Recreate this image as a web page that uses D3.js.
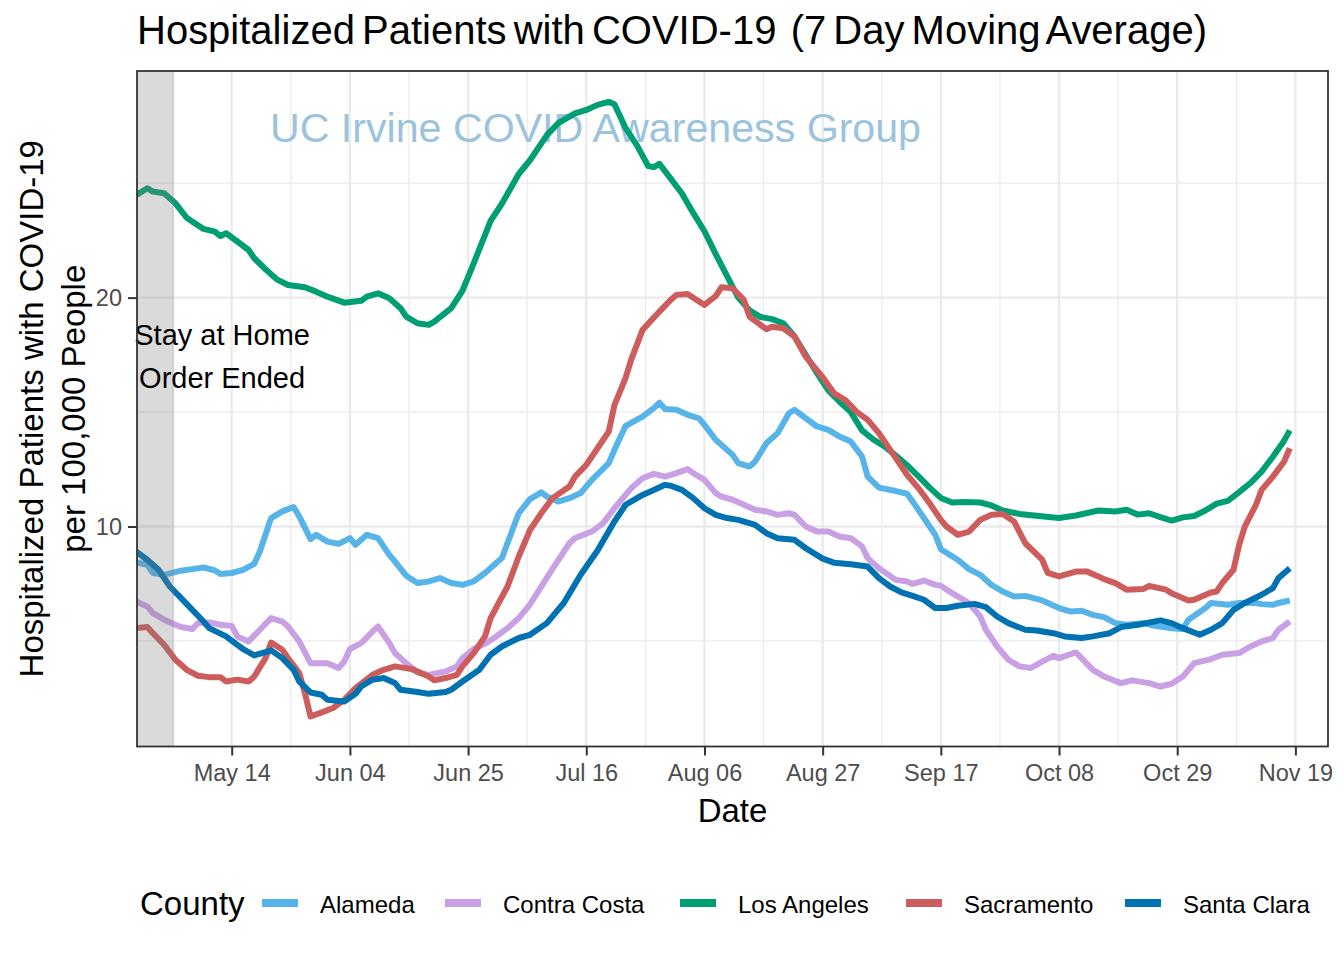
<!DOCTYPE html>
<html><head><meta charset="utf-8">
<script src="https://cdn.jsdelivr.net/npm/d3@7"></script>
<style>
body{margin:0;background:#fff;}
text{font-family:"Liberation Sans",Arial,Helvetica,sans-serif;}
</style></head><body>
<svg id="chart" width="1344" height="960"></svg>
<script>
// ---------------- DATA ----------------
const counties = ["Alameda","Contra Costa","Los Angeles","Sacramento","Santa Clara"];
const countyColors = ["#56B4E9","#C9A0E3","#009E73","#CD5C5C","#0072B2"];

const alameda = [["2020-04-27",8.43],["2020-04-29",8.33],["2020-04-30",7.97],["2020-05-02",7.89],["2020-05-05",8.07],["2020-05-07",8.14],["2020-05-09",8.21],["2020-05-11",8.08],["2020-05-12",7.93],["2020-05-14",7.97],["2020-05-16",8.11],["2020-05-18",8.37],["2020-05-19",8.91],["2020-05-21",10.37],["2020-05-23",10.66],["2020-05-25",10.85],["2020-05-26",10.44],["2020-05-28",9.45],["2020-05-29",9.64],["2020-05-31",9.34],["2020-06-02",9.24],["2020-06-04",9.49],["2020-06-05",9.2],["2020-06-07",9.64],["2020-06-09",9.49],["2020-06-11",8.76],["2020-06-12",8.47],["2020-06-14",7.85],["2020-06-16",7.53],["2020-06-18",7.6],["2020-06-20",7.75],["2020-06-22",7.53],["2020-06-24",7.45],["2020-06-26",7.6],["2020-06-28",7.97],["2020-07-01",8.62],["2020-07-03",9.93],["2020-07-04",10.58],["2020-07-06",11.2],["2020-07-08",11.49],["2020-07-09",11.31],["2020-07-11",11.09],["2020-07-13",11.24],["2020-07-15",11.46],["2020-07-17",12.04],["2020-07-20",12.77],["2020-07-21",13.35],["2020-07-23",14.4],["2020-07-26",14.8],["2020-07-28",15.17],["2020-07-29",15.41],["2020-07-30",15.13],["2020-08-01",15.1],["2020-08-03",14.88],["2020-08-05",14.73],["2020-08-06",14.44],["2020-08-08",13.79],["2020-08-11",13.13],["2020-08-12",12.77],["2020-08-14",12.62],["2020-08-15",12.84],["2020-08-17",13.64],["2020-08-19",14.08],["2020-08-21",14.95],["2020-08-22",15.1],["2020-08-24",14.73],["2020-08-26",14.37],["2020-08-28",14.22],["2020-08-30",13.93],["2020-09-01",13.71],["2020-09-03",13.06],["2020-09-04",12.18],["2020-09-06",11.7],["2020-09-09",11.55],["2020-09-11",11.43],["2020-09-12",11.09],["2020-09-14",10.37],["2020-09-16",9.64],["2020-09-17",9.01],["2020-09-20",8.55],["2020-09-22",8.14],["2020-09-24",7.89],["2020-09-26",7.45],["2020-09-28",7.16],["2020-09-30",6.94],["2020-10-02",6.97],["2020-10-05",6.77],["2020-10-08",6.44],["2020-10-10",6.29],["2020-10-12",6.32],["2020-10-14",6.14],["2020-10-16",6.04],["2020-10-18",5.78],["2020-10-20",5.71],["2020-10-23",5.78],["2020-10-25",5.66],["2020-10-28",5.56],["2020-10-30",5.52],["2020-10-31",5.93],["2020-11-03",6.44],["2020-11-04",6.66],["2020-11-07",6.58],["2020-11-09",6.66],["2020-11-12",6.66],["2020-11-13",6.61],["2020-11-15",6.58],["2020-11-16",6.66],["2020-11-18",6.77]];

const contraCosta = [["2020-04-27",6.72],["2020-04-29",6.51],["2020-04-30",6.22],["2020-05-02",5.93],["2020-05-04",5.71],["2020-05-05",5.61],["2020-05-07",5.52],["2020-05-08",5.78],["2020-05-10",5.81],["2020-05-12",5.71],["2020-05-14",5.66],["2020-05-15",5.2],["2020-05-17",4.98],["2020-05-19",5.49],["2020-05-21",6.0],["2020-05-23",5.85],["2020-05-24",5.63],["2020-05-26",4.98],["2020-05-28",4.03],["2020-05-30",4.03],["2020-05-31",4.03],["2020-06-02",3.82],["2020-06-03",4.1],["2020-06-04",4.65],["2020-06-06",4.91],["2020-06-08",5.41],["2020-06-09",5.63],["2020-06-11",4.91],["2020-06-12",4.47],["2020-06-14",4.03],["2020-06-16",3.62],["2020-06-18",3.52],["2020-06-21",3.67],["2020-06-23",3.89],["2020-06-24",4.25],["2020-06-26",4.65],["2020-06-28",4.88],["2020-06-30",5.2],["2020-07-02",5.56],["2020-07-04",6.0],["2020-07-06",6.6],["2020-07-10",8.15],["2020-07-13",9.27],["2020-07-14",9.5],["2020-07-17",9.78],["2020-07-19",10.15],["2020-07-21",10.8],["2020-07-24",11.68],["2020-07-26",12.11],["2020-07-28",12.3],["2020-07-30",12.18],["2020-08-01",12.33],["2020-08-03",12.51],["2020-08-04",12.33],["2020-08-06",12.04],["2020-08-08",11.46],["2020-08-09",11.31],["2020-08-11",11.17],["2020-08-13",10.95],["2020-08-15",10.73],["2020-08-17",10.66],["2020-08-19",10.51],["2020-08-21",10.58],["2020-08-22",10.51],["2020-08-24",10.0],["2020-08-26",9.78],["2020-08-28",9.78],["2020-08-30",9.56],["2020-09-01",9.49],["2020-09-03",9.13],["2020-09-04",8.62],["2020-09-06",8.18],["2020-09-09",7.67],["2020-09-11",7.6],["2020-09-12",7.49],["2020-09-14",7.64],["2020-09-16",7.45],["2020-09-17",7.41],["2020-09-19",7.09],["2020-09-22",6.66],["2020-09-24",6.07],["2020-09-25",5.49],["2020-09-27",4.76],["2020-09-29",4.18],["2020-10-01",3.89],["2020-10-03",3.82],["2020-10-05",4.1],["2020-10-07",4.35],["2020-10-08",4.25],["2020-10-11",4.5],["2020-10-12",4.25],["2020-10-14",3.74],["2020-10-16",3.45],["2020-10-19",3.16],["2020-10-21",3.28],["2020-10-24",3.16],["2020-10-26",3.01],["2020-10-28",3.13],["2020-10-30",3.45],["2020-11-01",4.03],["2020-11-04",4.21],["2020-11-06",4.4],["2020-11-09",4.47],["2020-11-11",4.76],["2020-11-13",4.98],["2020-11-15",5.13],["2020-11-16",5.49],["2020-11-18",5.85]];

const losAngeles = [["2020-04-27",24.48],["2020-04-29",24.78],["2020-04-30",24.63],["2020-05-02",24.56],["2020-05-04",24.12],["2020-05-06",23.49],["2020-05-07",23.32],["2020-05-09",23.0],["2020-05-11",22.88],["2020-05-12",22.69],["2020-05-13",22.81],["2020-05-15",22.45],["2020-05-17",22.08],["2020-05-18",21.72],["2020-05-20",21.24],["2020-05-22",20.8],["2020-05-24",20.55],["2020-05-27",20.45],["2020-05-29",20.26],["2020-05-31",20.04],["2020-06-03",19.78],["2020-06-06",19.86],["2020-06-07",20.04],["2020-06-09",20.19],["2020-06-11",19.97],["2020-06-13",19.54],["2020-06-14",19.17],["2020-06-16",18.88],["2020-06-18",18.81],["2020-06-19",18.95],["2020-06-22",19.54],["2020-06-24",20.3],["2020-06-26",21.5],["2020-06-29",23.35],["2020-07-01",24.1],["2020-07-04",25.4],["2020-07-06",26.0],["2020-07-09",27.1],["2020-07-11",27.62],["2020-07-14",28.05],["2020-07-16",28.2],["2020-07-18",28.42],["2020-07-20",28.55],["2020-07-21",28.45],["2020-07-23",27.4],["2020-07-25",26.65],["2020-07-27",25.75],["2020-07-28",25.7],["2020-07-29",25.84],["2020-07-31",25.2],["2020-08-02",24.55],["2020-08-04",23.7],["2020-08-06",22.9],["2020-08-08",21.9],["2020-08-10",20.95],["2020-08-12",20.0],["2020-08-14",19.45],["2020-08-16",19.15],["2020-08-18",19.06],["2020-08-20",18.88],["2020-08-22",18.3],["2020-08-24",17.5],["2020-08-26",16.7],["2020-08-28",15.95],["2020-08-30",15.45],["2020-09-01",15.0],["2020-09-03",14.2],["2020-09-05",13.8],["2020-09-07",13.5],["2020-09-09",13.1],["2020-09-11",12.68],["2020-09-13",12.2],["2020-09-15",11.7],["2020-09-17",11.25],["2020-09-19",11.05],["2020-09-21",11.07],["2020-09-24",11.05],["2020-09-26",10.92],["2020-09-28",10.7],["2020-10-01",10.55],["2020-10-04",10.47],["2020-10-08",10.37],["2020-10-11",10.48],["2020-10-15",10.7],["2020-10-18",10.66],["2020-10-20",10.73],["2020-10-22",10.52],["2020-10-24",10.58],["2020-10-26",10.41],["2020-10-28",10.26],["2020-10-30",10.4],["2020-11-01",10.46],["2020-11-03",10.7],["2020-11-05",11.0],["2020-11-07",11.12],["2020-11-09",11.5],["2020-11-11",11.9],["2020-11-13",12.4],["2020-11-15",13.05],["2020-11-17",13.75],["2020-11-18",14.2]];

const sacramento = [["2020-04-27",5.56],["2020-04-29",5.61],["2020-04-30",5.34],["2020-05-02",4.83],["2020-05-04",4.18],["2020-05-06",3.74],["2020-05-08",3.48],["2020-05-10",3.42],["2020-05-12",3.42],["2020-05-13",3.23],["2020-05-15",3.31],["2020-05-17",3.23],["2020-05-18",3.45],["2020-05-20",4.25],["2020-05-21",4.93],["2020-05-23",4.62],["2020-05-24",4.25],["2020-05-26",3.6],["2020-05-27",2.72],["2020-05-28",1.7],["2020-05-30",1.88],["2020-06-01",2.07],["2020-06-03",2.43],["2020-06-05",2.94],["2020-06-08",3.52],["2020-06-10",3.74],["2020-06-12",3.89],["2020-06-15",3.77],["2020-06-16",3.67],["2020-06-18",3.45],["2020-06-19",3.28],["2020-06-21",3.38],["2020-06-23",3.52],["2020-06-24",3.89],["2020-06-26",4.47],["2020-06-28",5.2],["2020-06-29",6.0],["2020-07-02",7.38],["2020-07-04",8.69],["2020-07-06",9.85],["2020-07-08",10.58],["2020-07-10",11.24],["2020-07-13",11.75],["2020-07-14",12.18],["2020-07-16",12.69],["2020-07-18",13.42],["2020-07-20",14.15],["2020-07-21",15.3],["2020-07-23",16.5],["2020-07-24",17.3],["2020-07-26",18.59],["2020-07-29",19.39],["2020-07-31",19.9],["2020-08-01",20.12],["2020-08-03",20.16],["2020-08-06",19.68],["2020-08-08",20.07],["2020-08-09",20.45],["2020-08-11",20.41],["2020-08-13",19.9],["2020-08-14",19.17],["2020-08-17",18.62],["2020-08-18",18.73],["2020-08-20",18.66],["2020-08-22",18.3],["2020-08-24",17.42],["2020-08-27",16.52],["2020-08-29",15.83],["2020-08-31",15.53],["2020-09-02",15.02],["2020-09-04",14.66],["2020-09-06",14.08],["2020-09-08",13.35],["2020-09-09",12.99],["2020-09-11",12.26],["2020-09-13",11.68],["2020-09-15",11.02],["2020-09-17",10.29],["2020-09-18",10.0],["2020-09-20",9.64],["2020-09-22",9.78],["2020-09-24",10.29],["2020-09-26",10.51],["2020-09-28",10.55],["2020-09-30",10.22],["2020-10-02",9.27],["2020-10-05",8.55],["2020-10-06",7.97],["2020-10-08",7.82],["2020-10-11",8.03],["2020-10-13",8.03],["2020-10-15",7.82],["2020-10-16",7.7],["2020-10-18",7.53],["2020-10-20",7.24],["2020-10-23",7.27],["2020-10-24",7.41],["2020-10-27",7.24],["2020-10-28",7.09],["2020-10-31",6.77],["2020-11-01",6.8],["2020-11-04",7.12],["2020-11-05",7.16],["2020-11-06",7.53],["2020-11-08",8.11],["2020-11-09",9.2],["2020-11-10",10.0],["2020-11-12",10.95],["2020-11-13",11.6],["2020-11-15",12.18],["2020-11-17",12.84],["2020-11-18",13.42]];

const santaClara = [["2020-04-27",8.91],["2020-04-29",8.55],["2020-05-01",8.11],["2020-05-03",7.38],["2020-05-05",6.87],["2020-05-07",6.36],["2020-05-09",5.85],["2020-05-10",5.56],["2020-05-13",5.2],["2020-05-15",4.83],["2020-05-16",4.65],["2020-05-18",4.37],["2020-05-20",4.51],["2020-05-21",4.59],["2020-05-23",4.25],["2020-05-25",3.74],["2020-05-26",3.23],["2020-05-28",2.75],["2020-05-30",2.65],["2020-05-31",2.43],["2020-06-03",2.36],["2020-06-05",2.69],["2020-06-06",3.01],["2020-06-08",3.31],["2020-06-10",3.38],["2020-06-12",3.16],["2020-06-13",2.87],["2020-06-16",2.77],["2020-06-18",2.69],["2020-06-21",2.77],["2020-06-22",2.87],["2020-06-24",3.23],["2020-06-27",3.74],["2020-06-29",4.4],["2020-07-01",4.76],["2020-07-04",5.13],["2020-07-06",5.27],["2020-07-09",5.78],["2020-07-12",6.66],["2020-07-15",7.89],["2020-07-18",8.95],["2020-07-21",10.22],["2020-07-23",10.95],["2020-07-26",11.38],["2020-07-28",11.6],["2020-07-30",11.82],["2020-07-31",11.78],["2020-08-02",11.6],["2020-08-04",11.24],["2020-08-06",10.8],["2020-08-08",10.51],["2020-08-10",10.37],["2020-08-12",10.29],["2020-08-15",10.07],["2020-08-17",9.71],["2020-08-19",9.49],["2020-08-22",9.42],["2020-08-24",9.05],["2020-08-27",8.6],["2020-08-29",8.42],["2020-09-01",8.35],["2020-09-04",8.25],["2020-09-06",7.75],["2020-09-08",7.38],["2020-09-10",7.12],["2020-09-12",6.97],["2020-09-14",6.8],["2020-09-16",6.44],["2020-09-18",6.44],["2020-09-20",6.54],["2020-09-23",6.62],["2020-09-25",6.48],["2020-09-27",6.07],["2020-09-29",5.78],["2020-10-02",5.49],["2020-10-04",5.46],["2020-10-07",5.34],["2020-10-09",5.2],["2020-10-12",5.13],["2020-10-14",5.2],["2020-10-17",5.34],["2020-10-19",5.61],["2020-10-22",5.71],["2020-10-26",5.9],["2020-10-28",5.78],["2020-10-30",5.56],["2020-11-02",5.27],["2020-11-04",5.49],["2020-11-06",5.78],["2020-11-08",6.36],["2020-11-10",6.66],["2020-11-13",7.02],["2020-11-15",7.31],["2020-11-16",7.75],["2020-11-18",8.18]];

const xTickDates = ["2020-05-14","2020-06-04","2020-06-25","2020-07-16","2020-08-06","2020-08-27","2020-09-17","2020-10-08","2020-10-29","2020-11-19"];
const yTickValues = [10, 20];
const yMinorValues = [5, 15, 25];
const xDomainDates = ["2020-04-27T04:05:00Z", "2020-11-24T19:00:00Z"];
const yDomainValues = [0.39, 29.9];
const stayHomeEnd = "2020-05-03T19:00:00Z";

const titleText = "Hospitalized Patients with COVID-19  (7 Day Moving Average)";
const yTitleLines = ["Hospitalized Patients with COVID-19", "per 100,000 People"];
const xTitleText = "Date";
const legendTitle = "County";
const watermarkText = "UC Irvine COVID Awareness Group";
const noteLines = ["Stay at Home", "Order Ended"];

// ---------------- DRAW ----------------
const seriesList = [alameda, contraCosta, losAngeles, sacramento, santaClara];
const parseDay = d3.utcParse("%Y-%m-%d");
const parseIso = s => new Date(s);

const P = {left: 137, right: 1328, top: 71, bottom: 746.5};
const svg = d3.select("#chart");

const x = d3.scaleUtc().domain(xDomainDates.map(parseIso)).range([P.left, P.right]);
const y = d3.scaleLinear().domain(yDomainValues).range([P.bottom, P.top]);

const grid = svg.append("g");
const tickDates = xTickDates.map(parseDay);
const minorDates = [];
const halfStep = (tickDates[1] - tickDates[0]) / 2;
tickDates.forEach(t => minorDates.push(new Date(+t - halfStep)));
minorDates.push(new Date(+tickDates[tickDates.length-1] + halfStep));
const [x0, x1] = x.domain();
grid.selectAll("line.vmin").data(minorDates.filter(d => d >= x0 && d <= x1)).enter().append("line")
  .attr("x1", d => x(d)).attr("x2", d => x(d)).attr("y1", P.top).attr("y2", P.bottom)
  .attr("stroke", "#ebebeb").attr("stroke-width", 1.2);
grid.selectAll("line.hmin").data(yMinorValues).enter().append("line")
  .attr("x1", P.left).attr("x2", P.right).attr("y1", d => y(d)).attr("y2", d => y(d))
  .attr("stroke", "#ebebeb").attr("stroke-width", 1.2);
grid.selectAll("line.vmaj").data(tickDates).enter().append("line")
  .attr("x1", d => x(d)).attr("x2", d => x(d)).attr("y1", P.top).attr("y2", P.bottom)
  .attr("stroke", "#ebebeb").attr("stroke-width", 2.4);
grid.selectAll("line.hmaj").data(yTickValues).enter().append("line")
  .attr("x1", P.left).attr("x2", P.right).attr("y1", d => y(d)).attr("y2", d => y(d))
  .attr("stroke", "#ebebeb").attr("stroke-width", 2.4);

svg.append("defs").append("clipPath").attr("id", "panel")
  .append("rect").attr("x", P.left).attr("y", P.top).attr("width", P.right - P.left).attr("height", P.bottom - P.top);

// watermark
svg.append("text").attr("x", 270).attr("y", 141.5)
  .attr("font-size", 41).attr("fill", "#9cc3de")
  .attr("textLength", 651).attr("lengthAdjust", "spacingAndGlyphs").text(watermarkText);

// lines
const line = d3.line().x(d => x(parseDay(d[0]))).y(d => y(d[1])).curve(d3.curveLinear);
const lg = svg.append("g").attr("clip-path", "url(#panel)");
seriesList.forEach((s, i) => {
  lg.append("path").datum(s).attr("d", line)
    .attr("fill", "none").attr("stroke", countyColors[i]).attr("stroke-width", 6)
    .attr("stroke-linejoin", "round").attr("stroke-linecap", "butt");
});

// shaded rect (over lines)
svg.append("rect").attr("x", P.left).attr("y", P.top)
  .attr("width", x(parseIso(stayHomeEnd)) - P.left).attr("height", P.bottom - P.top)
  .attr("fill", "#7f7f7f").attr("fill-opacity", 0.29);

// annotation text
const noteX = x(parseIso("2020-05-12T07:00:00Z"));
noteLines.forEach((t, i) => {
  svg.append("text").attr("x", noteX).attr("y", y(17.93) + i * 43)
    .attr("text-anchor", "middle").attr("font-size", 29).attr("fill", "#000").text(t);
});

// panel border
svg.append("rect").attr("x", P.left).attr("y", P.top)
  .attr("width", P.right - P.left).attr("height", P.bottom - P.top)
  .attr("fill", "none").attr("stroke", "#333").attr("stroke-width", 1.8);

// x axis
const xAxis = d3.axisBottom(x).tickValues(tickDates).tickFormat(d3.utcFormat("%b %d")).tickSize(9).tickPadding(4);
const gx = svg.append("g").attr("transform", `translate(0,${P.bottom})`).call(xAxis);
gx.select(".domain").remove();
gx.selectAll(".tick line").attr("stroke", "#333").attr("stroke-width", 2);
gx.selectAll(".tick text").attr("font-size", 23.5).attr("fill", "#4d4d4d")
  .attr("font-family", "Liberation Sans, Arial, sans-serif").attr("dy", "0.9em");

// y axis
const yAxis = d3.axisLeft(y).tickValues(yTickValues).tickFormat(d3.format("d")).tickSize(9).tickPadding(6);
const gy = svg.append("g").attr("transform", `translate(${P.left},0)`).call(yAxis);
gy.select(".domain").remove();
gy.selectAll(".tick line").attr("stroke", "#333").attr("stroke-width", 2);
gy.selectAll(".tick text").attr("font-size", 23.5).attr("fill", "#4d4d4d")
  .attr("font-family", "Liberation Sans, Arial, sans-serif");

// title
svg.append("text").attr("x", 137).attr("y", 44).attr("font-size", 40)
  .attr("fill", "#000").attr("word-spacing", -4).style("white-space", "pre")
  .attr("textLength", 1070).attr("lengthAdjust", "spacing").text(titleText);

// x title
svg.append("text").attr("x", (P.left + P.right) / 2).attr("y", 822)
  .attr("text-anchor", "middle").attr("font-size", 33).attr("fill", "#000").text(xTitleText);

// y title
const yMid = (P.top + P.bottom) / 2;
[43, 85].forEach((bx, i) => {
  svg.append("text").attr("transform", `translate(${bx},${yMid}) rotate(-90)`)
    .attr("text-anchor", "middle").attr("font-size", 33).attr("fill", "#000").text(yTitleLines[i]);
});

// legend
const legendKeyX = [262, 445, 680, 906, 1125];
const legendY = 903;
svg.append("text").attr("x", 140).attr("y", 915).attr("font-size", 33).attr("fill", "#000").text(legendTitle);
counties.forEach((c, i) => {
  svg.append("line").attr("x1", legendKeyX[i]).attr("x2", legendKeyX[i] + 36)
    .attr("y1", legendY).attr("y2", legendY)
    .attr("stroke", countyColors[i]).attr("stroke-width", 8);
  svg.append("text").attr("x", legendKeyX[i] + 58).attr("y", 912.5)
    .attr("font-size", 24).attr("fill", "#000").text(c);
});
</script>
</body></html>
